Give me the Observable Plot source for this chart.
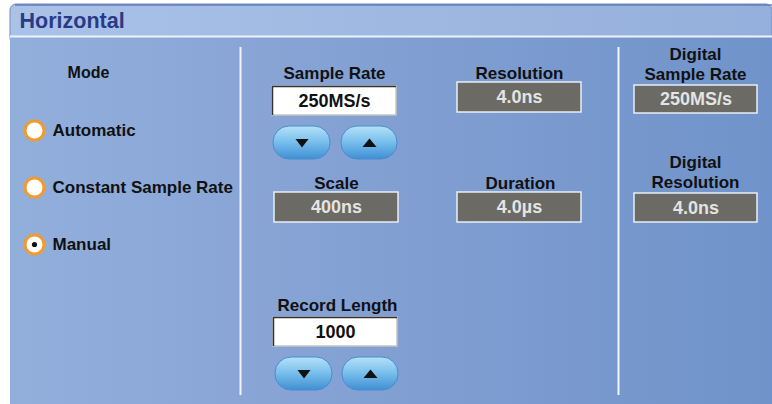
<!DOCTYPE html>
<html><head><meta charset="utf-8">
<script src="https://cdn.jsdelivr.net/npm/d3@7"></script>
<script src="https://cdn.jsdelivr.net/npm/@observablehq/plot@0.6"></script>
<style>body{margin:0;background:#fff;overflow:hidden}</style>
</head><body><div id="chart"></div>
<script>
// ---- content ----
const panelTitle = "Horizontal";
const modeTitle = "Mode";
const modes = ["Automatic", "Constant Sample Rate", "Manual"];
const selectedMode = "Manual";
const fieldLabels = ["Sample Rate", "Scale", "Record Length", "Resolution", "Duration", "Digital\nSample Rate", "Digital\nResolution"];
const fieldValues = ["250MS/s", "400ns", "1000", "4.0ns", "4.0µs", "250MS/s", "4.0ns"];
const fieldEditable = [true, false, true, false, false, false, false];
const stepperFields = ["Sample Rate", "Record Length"];
const stepDirections = ["down", "up"];

// ---- layout (positions / sizes) ----
const W = 772, H = 404;
const panel = {x1: 10, x2: W, y1: 4, y2: H, headBottom: 36};
const fieldLayout = [
  {cx: 334, ly: 72,  x1: 272, x2: 396, y1: 86,  y2: 115},
  {cx: 336, ly: 182, x1: 274, x2: 398, y1: 192, y2: 222},
  {cx: 337, ly: 304, x1: 273, x2: 397, y1: 317, y2: 346},
  {cx: 519, ly: 72,  x1: 457, x2: 581, y1: 82,  y2: 112},
  {cx: 520, ly: 182, x1: 457, x2: 581, y1: 192, y2: 222},
  {cx: 695, ly: 63,  x1: 634, x2: 757, y1: 85,  y2: 113},
  {cx: 695, ly: 171, x1: 634, x2: 757, y1: 193, y2: 222}
];
const stepperLayout = {
  "Sample Rate":   {y1: 126, y2: 159, xs: [[273, 330], [341, 397]]},
  "Record Length": {y1: 357, y2: 390, xs: [[275, 332], [342, 398]]}
};
const modeLayout = {cx: 34, tx: 52, ys: [130, 187, 244], titleX: 88, titleY: 72};
const dividerXs = [240, 618];
const FONT = "'Liberation Sans', Arial, sans-serif";

// ---- tables ----
const fields = fieldLabels.map((label, i) => ({label, value: fieldValues[i], editable: fieldEditable[i], ...fieldLayout[i]}));
const buttons = stepperFields.flatMap(f => stepDirections.map((dir, j) => ({
  field: f, dir, x1: stepperLayout[f].xs[j][0], x2: stepperLayout[f].xs[j][1], y1: stepperLayout[f].y1, y2: stepperLayout[f].y2
})));
const editable = fields.filter(d => d.editable);

const triDown = {draw(ctx) { ctx.moveTo(-6.5, -4); ctx.lineTo(6.5, -4); ctx.lineTo(0, 4.5); ctx.closePath(); }};
const triUp = {draw(ctx) { ctx.moveTo(-7, 4); ctx.lineTo(7, 4); ctx.lineTo(0, -4.5); ctx.closePath(); }};
const mid = (a, b) => d => (d[a] + d[b]) / 2;

const svg = Plot.plot({
  width: W, height: H, margin: 0,
  x: {domain: [0, W], range: [0, W], axis: null},
  y: {domain: [0, H], range: [0, H], axis: null},
  color: {type: "identity"},
  style: {background: "white", fontFamily: FONT},
  marks: [
    Plot.rect([panel], {x1: "x1", x2: "x2", y1: "y1", y2: d => d.headBottom + 8, rx: 6, fill: "url(#headGrad)", stroke: "#7189c2", strokeWidth: 1}),
    Plot.rect([panel], {x1: "x1", x2: "x2", y1: "headBottom", y2: "y2", fill: "url(#bodyGrad)"}),
    Plot.ruleY([panel], {y: d => d.y1 + 0.5, x1: d => d.x1 + 5, x2: "x2", stroke: "#637dba", strokeWidth: 1.5}),
    Plot.ruleY([panel], {y: "headBottom", x1: "x1", x2: "x2", stroke: "#eef3fb", strokeWidth: 2}),
    Plot.ruleX(dividerXs, {x: d => d, y1: 47, y2: 395, stroke: "#f1f5fb", strokeWidth: 2}),
    Plot.text([panelTitle], {x: 19, y: 21, text: d => d, textAnchor: "start", fontSize: 21.5, fontWeight: "bold", fill: "#2a3a86"}),
    Plot.text([modeTitle], {x: modeLayout.titleX, y: modeLayout.titleY, text: d => d, fontSize: 16, fontWeight: "bold", fill: "#111"}),
    Plot.dot(modes, {x: modeLayout.cx, y: (d, i) => modeLayout.ys[i], r: 9.5, fill: "white", stroke: "#f19a2d", strokeWidth: 3}),
    Plot.dot(modes.filter(m => m === selectedMode), {x: modeLayout.cx, y: d => modeLayout.ys[modes.indexOf(d)], r: 2.6, fill: "#111"}),
    Plot.text(modes, {x: modeLayout.tx, y: (d, i) => modeLayout.ys[i], text: d => d, textAnchor: "start", fontSize: 17, fontWeight: "bold", fill: "#111"}),
    Plot.text(fields, {x: "cx", y: "ly", text: "label", lineHeight: 1.18, fontSize: 17, fontWeight: "bold", fill: "#111"}),
    Plot.rect(fields, {x1: "x1", x2: "x2", y1: "y1", y2: "y2", fill: d => d.editable ? "white" : "#6b6a65", stroke: d => d.editable ? "#c4c4c4" : "#e9eef6", strokeWidth: 1.5}),
    Plot.ruleY(editable, {y: "y1", x1: "x1", x2: "x2", stroke: "#333", strokeWidth: 1.5}),
    Plot.ruleX(editable, {x: "x1", y1: "y1", y2: "y2", stroke: "#333", strokeWidth: 1.5}),
    Plot.text(fields, {x: mid("x1", "x2"), y: mid("y1", "y2"), text: "value", fontSize: 18, fontWeight: "bold", fill: d => d.editable ? "#111" : "#e4e4e2"}),
    Plot.rect(buttons, {x1: "x1", x2: "x2", y1: "y1", y2: "y2", rx: 16, fill: "url(#btnGrad)", stroke: "#4a8ccc", strokeWidth: 1}),
    Plot.dot(buttons.filter(d => d.dir === "down"), {x: mid("x1", "x2"), y: mid("y1", "y2"), symbol: triDown, fill: "#111", stroke: "none"}),
    Plot.dot(buttons.filter(d => d.dir === "up"), {x: mid("x1", "x2"), y: mid("y1", "y2"), symbol: triUp, fill: "#111", stroke: "none"})
  ]
});

const defs = d3.select(svg).insert("defs", ":first-child");
function grad(id, horizontal, stops) {
  const g = defs.append("linearGradient").attr("id", id)
    .attr("x1", 0).attr("y1", 0).attr("x2", horizontal ? 1 : 0).attr("y2", horizontal ? 0 : 1);
  stops.forEach(([o, c]) => g.append("stop").attr("offset", o).attr("stop-color", c));
}
grad("headGrad", true, [[0, "#aac2e7"], [1, "#95afdc"]]);
grad("bodyGrad", true, [[0, "#92afdc"], [0.5, "#829fd2"], [1, "#6f93ca"]]);
grad("btnGrad", false, [[0, "#b5e1f8"], [0.45, "#7cc2ee"], [1, "#3f8fd4"]]);

document.getElementById("chart").appendChild(svg);
</script>
</body></html>
